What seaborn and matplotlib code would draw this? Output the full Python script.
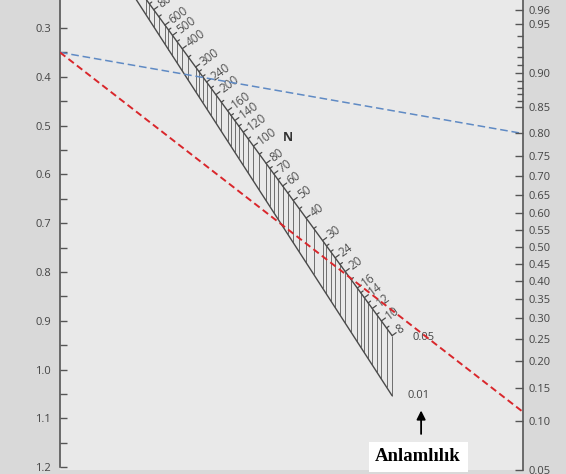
"""Sample-size nomogram (standardized difference / N / power)."""
import numpy as np
import pandas as pd
import matplotlib
matplotlib.use("Agg")
import matplotlib.pyplot as plt
import seaborn as sns
from statistics import NormalDist

# ---- values ----
std_diff_labels = [0.3, 0.4, 0.5, 0.6, 0.7, 0.8, 0.9, 1.0, 1.1, 1.2]
std_diff_minor = [0.35, 0.45, 0.55, 0.65, 0.75, 0.85, 0.95, 1.05, 1.15]
power_labels = [0.96, 0.95, 0.90, 0.85, 0.80, 0.75, 0.70, 0.65, 0.60, 0.55,
                0.50, 0.45, 0.40, 0.35, 0.30, 0.25, 0.20, 0.15, 0.10, 0.05]
power_minor = [0.94, 0.93, 0.92, 0.91, 0.89, 0.88, 0.87, 0.86]
n_labels = [8, 10, 12, 14, 16, 20, 24, 30, 40, 50, 60, 70, 80, 100, 120, 140,
            160, 200, 240, 300, 400, 500, 600, 800]
n_minor = [9, 11, 13, 15, 18, 22, 26, 28, 35, 45, 55, 65, 75, 90, 110, 130,
           150, 180, 220, 260, 280, 350, 450, 550, 700, 900, 1000]
alpha_levels = [0.05, 0.01]
example_case = ["blue", "red"]
example_diff = [0.35, 0.35]
example_power = [0.80, 0.114]

# ---- nomogram geometry (x 0..1 between the two scales, y in units of the
#      standardized-difference scale, drawn downwards) ----
PXX, PXY = 1 / 463, 1 / 488           # data units per pixel
POW_A, POW_K = 0.7508, 0.2787          # power scale: y = A - K * z(power)


def z_of(p):
    return np.array([NormalDist().inv_cdf(v) for v in np.atleast_1d(p)])


def power_pos(p):
    return POW_A - POW_K * z_of(p)


def n_pos(n, alpha):
    # point on the N line for significance alpha (two-sided)
    s = 1.0 / (1.0 + POW_K * np.sqrt(np.asarray(n, float)) / 2.0)
    za = z_of(1 - alpha / 2)[0]
    return s, s * (POW_A + POW_K * za)


def shift(pt, dx, dy):
    return pt[0] + dx * PXX, pt[1] + dy * PXY


sns.set_theme(style="white", rc={"axes.facecolor": "#e9e9e9",
                                 "figure.facecolor": "#d9d9d9"})
plt.rcParams["font.family"] = ["Open Sans", "DejaVu Sans"]

fig = plt.figure(figsize=(5.66, 4.74), dpi=100)
ax = fig.add_axes([60 / 566, 4 / 474, 463 / 566, 470 / 474])
ax.set_xlim(0, 1)
ax.set_ylim(1.2057, 0.2426)

# N scale band: 0.05 line (upper) and 0.01 line (lower) joined by verticals
a_hi, a_lo = alpha_levels
n_all = np.array(sorted(n_labels + n_minor), float)
ux, uy = n_pos(n_all, a_hi)
lx, ly = n_pos(n_all, a_lo)
ax.vlines(ux, uy, ly, color="#6e6e6e", lw=0.7, zorder=2)
n_line = np.array([8, 3000.0])
ax.plot(*n_pos(n_line, a_hi), color="#4a4a4a", lw=1.0, zorder=3)
ax.plot(*n_pos(n_line, a_lo), color="#4a4a4a", lw=1.0, zorder=3)

# outward normal of the 0.05 line, in pixels
p0, p1 = [np.array(n_pos(v, a_hi)) for v in (8, 800)]
dpx = (p1 - p0) / np.array([PXX, PXY])
dpx /= np.hypot(*dpx)
normal = np.array([-dpx[1], dpx[0]])
if normal[0] < 0:
    normal = -normal
rot = np.degrees(np.arctan2(-normal[1], normal[0]))

segs_x, segs_y = [], []
for n in n_all:
    x, y = n_pos(n, a_hi)
    L = 5 if n in n_labels else 3
    segs_x += [x, x + L * normal[0] * PXX, np.nan]
    segs_y += [y, y + L * normal[1] * PXY, np.nan]
ax.plot(segs_x, segs_y, color="#4a4a4a", lw=0.9, zorder=3)

for n in n_labels:
    ax.annotate(str(n), xy=n_pos(n, a_hi),
                xytext=(5.0 * normal[0], -5.0 * normal[1]),
                textcoords="offset points", rotation=rot,
                rotation_mode="anchor", ha="left", va="center",
                fontsize=8.5, color="#505050")

ax.text(0.4924, 0.5234, "N", fontsize=9, weight="bold", color="#333333",
        ha="center", va="center")

# example lines
ex = pd.DataFrame({
    "x": [0, 1, 0, 1],
    "y": [example_diff[0], power_pos(example_power[0])[0],
          example_diff[1], power_pos(example_power[1])[0]],
    "case": [example_case[0]] * 2 + [example_case[1]] * 2,
})
sns.lineplot(data=ex[ex["case"] == "blue"], x="x", y="y", color="#5f8ac4",
             lw=1.1, linestyle=(0, (5, 2.5)), ax=ax, zorder=5)
sns.lineplot(data=ex[ex["case"] == "red"], x="x", y="y", color="#d9262b",
             lw=1.4, linestyle=(0, (3.5, 2)), ax=ax, zorder=5)

# significance labels
end05 = n_pos(8, a_hi)
end01 = n_pos(8, a_lo)
ax.text(*shift(end05, 31, 2), f"{a_hi:.2f}", fontsize=8, color="#444444",
        ha="center", va="center")
ax.text(*shift(end01, 26, 0), f"{a_lo:.2f}", fontsize=8, color="#444444",
        ha="center", va="center")
ax.annotate("", xy=shift(end01, 29, 12), xytext=shift(end01, 29, 41),
            arrowprops=dict(arrowstyle="-|>", color="black", lw=1.3,
                            mutation_scale=13))
ax.text(*shift(end01, 26, 61), "Anlamlılık", fontsize=13.5, weight="bold",
        family=["Liberation Serif", "DejaVu Serif"], color="black",
        ha="center", va="center",
        bbox=dict(boxstyle="square,pad=0.35", fc="white", ec="none"))

# left scale: standardized difference
ax.set_yticks(std_diff_labels)
ax.set_yticklabels([f"{v:.1f}" for v in std_diff_labels])
ax.set_yticks(std_diff_minor, minor=True)
ax.tick_params(axis="y", which="both", direction="in", left=True, right=False,
               color="#555555", labelcolor="#444444", labelsize=8, pad=6.5,
               length=5, width=1)
ax.tick_params(axis="x", bottom=False, labelbottom=False)
ax.set_xlabel(""); ax.set_ylabel("")
for s in ["top", "bottom", "right"]:
    ax.spines[s].set_visible(False)
ax.spines["left"].set_color("#555555")
ax.spines["left"].set_linewidth(1.2)
ax.spines["left"].set_bounds(0.2426, 1.2)

# right scale: power
ax2 = ax.twinx()
ax2.set_ylim(1.2057, 0.2426)
ax2.set_yticks(power_pos(power_labels))
ax2.set_yticklabels([f"{p:.2f}" for p in power_labels])
ax2.set_yticks(power_pos(power_minor), minor=True)
ax2.tick_params(axis="y", which="major", direction="in", length=6, width=1,
                color="#555555", labelcolor="#444444", labelsize=8, pad=4)
ax2.tick_params(axis="y", which="minor", direction="in", length=4, width=1,
                color="#555555")
for s in ["top", "bottom", "left"]:
    ax2.spines[s].set_visible(False)
ax2.spines["right"].set_color("#555555")
ax2.spines["right"].set_linewidth(1.2)
ax2.grid(False)

fig.savefig("out.png", dpi=100, facecolor=fig.get_facecolor())
